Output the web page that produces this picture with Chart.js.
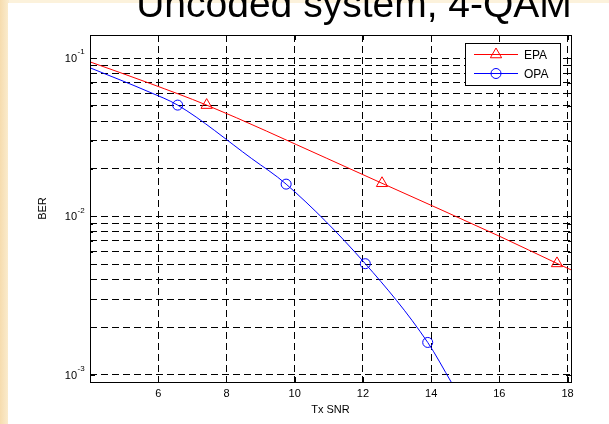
<!DOCTYPE html>
<html>
<head>
<meta charset="utf-8">
<title>Uncoded system, 4-QAM</title>
<script src="https://cdn.jsdelivr.net/npm/chart.js@4.4.0/dist/chart.umd.min.js"></script>
<style>
  html, body { margin: 0; padding: 0; background: #fcf2dc; }
  #wrap { width: 609px; height: 424px; }
</style>
</head>
<body>
<div id="wrap"><canvas id="chart" width="609" height="424"></canvas></div>
<script>
// values (x = Tx SNR, y = BER)
const epaSnr = [4, 5.76, 7.42, 10.94, 12.56, 16.02, 17.69, 18.1];
const epaBer = [0.0947, 0.0692, 0.0505, 0.0233, 0.0162, 0.00747, 0.00505, 0.0046];
const epaMarkIdx = [2, 4, 6];

const opaSnr = [4, 5.76, 6.57, 8.74, 9.75, 12.07, 13.9, 14.6];
const opaBer = [0.0869, 0.0608, 0.0505, 0.0232, 0.016, 0.00503, 0.0016, 0.00089];
const opaMarkIdx = [2, 4, 5, 6];

const xTicks = [6, 8, 10, 12, 14, 16, 18];
const yDecades = [0.001, 0.01, 0.1];
const titleText = "Uncoded system, 4-QAM";
const xLabel = "Tx SNR";
const yLabel = "BER";

const FONT = "'Liberation Sans', Arial, sans-serif";

// log minor ticks 1..9 in each decade
const yTicks = [];
yDecades.forEach(d => {
  for (let k = 1; k <= 9; k++) {
    const v = +(d * k).toPrecision(3);
    if (v <= 0.14) yTicks.push({ value: v, major: k === 1 });
  }
});

function toPoints(xs, ys) {
  return xs.map((x, i) => ({ x: x, y: ys[i] }));
}
function radii(xs, idx, r) {
  return xs.map((_, i) => idx.includes(i) ? r : 0);
}

// page background, white figure, cut-off title
const backdrop = {
  id: "backdrop",
  beforeDraw(chart) {
    const ctx = chart.ctx;
    ctx.save();
    ctx.fillStyle = "#fcf2dc";
    ctx.fillRect(0, 0, chart.width, chart.height);
    const g = ctx.createLinearGradient(0, 0, 9, 0);
    g.addColorStop(0, "#f6dcae");
    g.addColorStop(1, "#fbedd0");
    ctx.fillStyle = g;
    ctx.fillRect(0, 0, 9, chart.height);
    ctx.fillStyle = "#ffffff";
    ctx.fillRect(8, 3, chart.width - 8, chart.height - 3);
    ctx.fillStyle = "#000";
    ctx.font = "39px " + FONT;
    ctx.textAlign = "center";
    ctx.textBaseline = "alphabetic";
    ctx.fillText(titleText, 354, 17);
    ctx.restore();
  }
};

// MATLAB style box, inner ticks and 10^n labels
const axesBox = {
  id: "axesBox",
  afterDatasetsDraw(chart) {
    const { ctx, chartArea: a, scales: { x, y } } = chart;
    ctx.save();
    ctx.strokeStyle = "#000";
    ctx.lineWidth = 1;
    ctx.beginPath();
    xTicks.forEach(v => {
      const px = Math.round(x.getPixelForValue(v)) + 0.5;
      ctx.moveTo(px, a.bottom); ctx.lineTo(px, a.bottom - 5);
      ctx.moveTo(px, a.top); ctx.lineTo(px, a.top + 5);
    });
    yTicks.forEach(t => {
      const py = Math.round(y.getPixelForValue(t.value)) + 0.5;
      const len = t.major ? 5 : 3;
      ctx.moveTo(a.left, py); ctx.lineTo(a.left + len, py);
      ctx.moveTo(a.right, py); ctx.lineTo(a.right - len, py);
    });
    ctx.stroke();
    ctx.strokeRect(Math.round(a.left) + 0.5, Math.round(a.top) + 0.5,
                   Math.round(a.right - a.left), Math.round(a.bottom - a.top));

    ctx.fillStyle = "#000";
    ctx.textBaseline = "middle";
    yDecades.forEach(v => {
      const py = y.getPixelForValue(v);
      ctx.font = "11px " + FONT;
      ctx.textAlign = "right";
      ctx.fillText("10", 77, py + 1);
      ctx.font = "8px " + FONT;
      ctx.textAlign = "left";
      ctx.fillText(String(Math.round(Math.log10(v))), 77.5, py - 6);
    });
    ctx.restore();
  }
};

// legend: line with marker in a box
const boxLegend = {
  id: "boxLegend",
  afterDraw(chart) {
    const ctx = chart.ctx;
    const bx = 465.5, by = 43.5, bw = 95, bh = 42;
    ctx.save();
    ctx.fillStyle = "#fff";
    ctx.fillRect(bx, by, bw, bh);
    ctx.strokeStyle = "#000";
    ctx.lineWidth = 1;
    ctx.strokeRect(bx, by, bw, bh);
    chart.data.datasets.forEach((ds, i) => {
      const ry = 54.5 + i * 19;
      ctx.strokeStyle = ds.borderColor;
      ctx.beginPath();
      ctx.moveTo(474, ry); ctx.lineTo(518, ry);
      ctx.stroke();
      ctx.beginPath();
      if (ds.pointStyle === "triangle") {
        const r = 6.5;
        let ang = 0;
        for (let k = 0; k < 3; k++) {
          const px = 496 + Math.sin(ang) * r, py = ry - Math.cos(ang) * r;
          if (k === 0) ctx.moveTo(px, py); else ctx.lineTo(px, py);
          ang += 2 * Math.PI / 3;
        }
        ctx.closePath();
      } else {
        ctx.arc(496, ry, 5, 0, 2 * Math.PI);
      }
      ctx.stroke();
      ctx.fillStyle = "#000";
      ctx.font = "12px " + FONT;
      ctx.textAlign = "left";
      ctx.textBaseline = "middle";
      ctx.fillText(ds.label, 524, ry + 1);
    });
    ctx.restore();
  }
};

new Chart(document.getElementById("chart"), {
  type: "line",
  data: {
    datasets: [
      {
        label: "EPA",
        data: toPoints(epaSnr, epaBer),
        borderColor: "#ff0000",
        borderWidth: 1,
        pointStyle: "triangle",
        pointRadius: radii(epaSnr, epaMarkIdx, 6.5),
        pointBorderColor: "#ff0000",
        pointBackgroundColor: "rgba(0,0,0,0)",
        pointBorderWidth: 1,
        cubicInterpolationMode: "monotone"
      },
      {
        label: "OPA",
        data: toPoints(opaSnr, opaBer),
        borderColor: "#0000ff",
        borderWidth: 1,
        pointStyle: "circle",
        pointRadius: radii(opaSnr, opaMarkIdx, 5),
        pointBorderColor: "#0000ff",
        pointBackgroundColor: "rgba(0,0,0,0)",
        pointBorderWidth: 1,
        cubicInterpolationMode: "monotone"
      }
    ]
  },
  options: {
    responsive: false,
    animation: false,
    events: [],
    layout: { padding: { top: 35, right: 38, left: 0, bottom: 0 } },
    plugins: { legend: { display: false }, tooltip: { enabled: false } },
    scales: {
      x: {
        type: "linear",
        min: 4,
        max: 18.1,
        afterBuildTicks: s => { s.ticks = xTicks.map(v => ({ value: v })); },
        afterFit: s => { s.height = 42; },
        grid: { color: "#000", drawTicks: false },
        border: { display: false, dash: [7, 4] },
        ticks: { color: "#000", padding: 5, font: { family: FONT, size: 11 } },
        title: { display: true, text: xLabel, color: "#000",
                 font: { family: FONT, size: 11 }, padding: { top: 0, bottom: 7 } }
      },
      y: {
        type: "logarithmic",
        min: 0.0009,
        max: 0.14,
        afterBuildTicks: s => { s.ticks = yTicks.map(t => ({ value: t.value, major: t.major })); },
        afterFit: s => { s.width = 90; },
        grid: { color: "#000", drawTicks: false },
        border: { display: false, dash: [7, 4] },
        ticks: { display: false },
        title: { display: true, text: yLabel, color: "#000",
                 font: { family: FONT, size: 11 }, padding: { top: 36, bottom: 0 } }
      }
    }
  },
  plugins: [backdrop, axesBox, boxLegend]
});
</script>
</body>
</html>
